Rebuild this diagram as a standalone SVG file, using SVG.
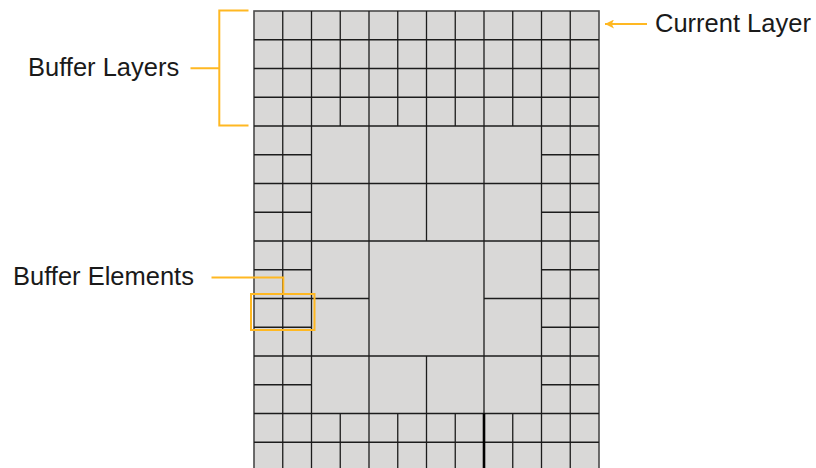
<svg xmlns="http://www.w3.org/2000/svg" width="816" height="468" viewBox="0 0 816 468">
<defs>
<style>
.lbl{font-family:"Liberation Sans",Arial,sans-serif;font-size:25.5px;fill:#1a1a1a}
.g{stroke:#1c1c1c;stroke-width:1.3;fill:none}
.o{stroke:#FFB822;stroke-width:2;fill:none}
</style>
<marker id="ah" viewBox="0 0 10 10" refX="10" refY="5" markerWidth="10" markerHeight="9" orient="auto" markerUnits="userSpaceOnUse">
<path d="M10,5 L0,0 L2.5,5 L0,10 Z" fill="#FFB822"/>
</marker>
</defs>
<rect width="816" height="468" fill="#ffffff"/>
<g id="grid">
<rect x="254" y="11" width="345" height="470" fill="#d9d8d7" stroke="#4a4a4a" stroke-width="1.6"/>
<path class="g" d="M254,39.75H599M254,68.5H599M254,97.25H599M254,126H599M254,154.75H311.5M541.5,154.75H599M254,183.5H599M254,212.25H311.5M541.5,212.25H599M254,241H599M254,269.75H311.5M541.5,269.75H599M254,298.5H369M484,298.5H599M254,327.25H311.5M541.5,327.25H599M254,356H599M254,384.75H311.5M541.5,384.75H599M254,413.5H599M254,442.25H599"/>
<path class="g" d="M282.75,11V468M311.5,11V468M340.25,11V126M340.25,413.5V468M369,11V468M397.75,11V126M397.75,413.5V468M426.5,11V241M426.5,356V468M455.25,11V126M455.25,413.5V468M484,11V413.5M512.75,11V126M512.75,413.5V468M541.5,11V468M570.25,11V468"/>
<path d="M484,413.5V468" stroke="#000" stroke-width="2.6"/>
</g>
<g id="label-current-layer"><text class="lbl" x="655" y="32">Current Layer</text></g>
<g id="label-buffer-layers"><text class="lbl" x="28" y="76">Buffer Layers</text></g>
<g id="label-buffer-elements"><text class="lbl" x="13" y="285">Buffer Elements</text></g>
<g id="buffer-elements-box"><rect class="o" x="251" y="294" width="63.5" height="36"/></g>
<g id="connectors">
<path class="o" d="M647,24H605" marker-end="url(#ah)"/>
<path class="o" d="M248.5,10.5H219.3V125.5H248.5M190.5,68.3H219.3"/>
<path class="o" d="M211.5,277.5H283.3V294"/>
</g>
</svg>
